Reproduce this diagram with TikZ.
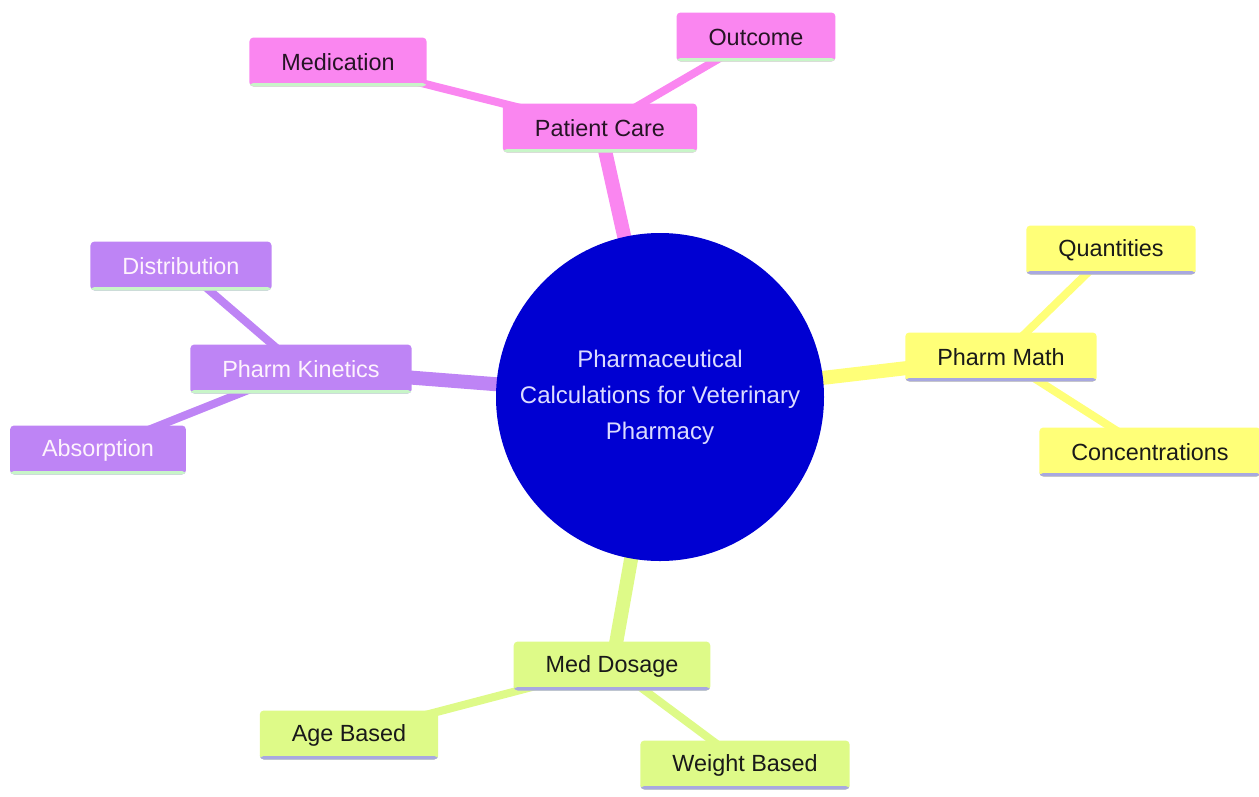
\documentclass[tikz,border=0pt]{standalone}
\usepackage{fontspec}
\setmainfont{Liberation Sans}
\usetikzlibrary{positioning, backgrounds}

\definecolor{rootblue}{HTML}{0000D2}
\definecolor{roottext}{HTML}{DCDCFF}
\definecolor{carepink}{HTML}{FA86F0}
\definecolor{kinpurple}{HTML}{BE84F5}
\definecolor{mathyellow}{HTML}{FFFF78}
\definecolor{dosegreen}{HTML}{DEFA88}
\definecolor{minty}{HTML}{C8F5C8}
\definecolor{lavender}{HTML}{A8A8E0}

\begin{document}
\begin{tikzpicture}[x=1pt, y=-1pt]
                \tikzset{
                    topic/.style={rectangle, rounded corners=4pt, inner xsep=32pt,
                        minimum height=49pt, font=\fontsize{23.4}{28}\selectfont},
                    stripe/.style={path picture={\fill[#1]
                        (path picture bounding box.south west) rectangle
                        ([yshift=3.5pt]path picture bounding box.south east);}},
                    care/.style={topic, fill=carepink, text=black!85!carepink, stripe=minty},
                    kin/.style={topic, fill=kinpurple, text=white!90!carepink, stripe=minty},
                    math/.style={topic, fill=mathyellow, text=black!90, stripe=lavender},
                    dose/.style={topic, fill=dosegreen, text=black!90, stripe=lavender},
                    branch/.style={line width=14pt, draw=#1},
                    twig/.style={line width=8pt, draw=#1}
                }
                \useasboundingbox (0,0) rectangle (1259,796);

                % ROOT
                \node[circle, fill=rootblue, text=roottext, minimum size=328pt, align=center,
                    font=\fontsize{24}{36}\selectfont] (root) at (660,397)
                    {Pharmaceutical\\Calculations for Veterinary\\Pharmacy};

                % BRANCHES
                \node[care] (care) at (600,128) {Patient Care};
                \node[kin] (kin) at (301,369) {Pharm Kinetics};
                \node[math] (math) at (1001,357) {Pharm Math};
                \node[dose] (dose) at (612,666) {Med Dosage};

                % LEAVES
                \node[care] (medication) at (338,62) {Medication};
                \node[care] (outcome) at (756,37) {Outcome};
                \node[kin] (distribution) at (181,266) {Distribution};
                \node[kin] (absorption) at (98,450) {Absorption};
                \node[math] (quantities) at (1111,250) {Quantities};
                \node[math] (concentrations) at (1150,452) {Concentrations};
                \node[dose] (age) at (349,735) {Age Based};
                \node[dose] (weight) at (745,765) {Weight Based};

                % CONNECTORS
                \begin{pgfonlayer}{background}
                \path
                    (root.center) edge[branch=carepink] (care.center)
                    (root.center) edge[branch=kinpurple] (kin.center)
                    (root.center) edge[branch=mathyellow] (math.center)
                    (root.center) edge[branch=dosegreen] (dose.center)
                    (care.center) edge[twig=carepink] (medication.center)
                    (care.center) edge[twig=carepink] (outcome.center)
                    (kin.center) edge[twig=kinpurple] (distribution.center)
                    (kin.center) edge[twig=kinpurple] (absorption.center)
                    (math.center) edge[twig=mathyellow] (quantities.center)
                    (math.center) edge[twig=mathyellow] (concentrations.center)
                    (dose.center) edge[twig=dosegreen] (age.center)
                    (dose.center) edge[twig=dosegreen] (weight.center);
                \end{pgfonlayer}

            \end{tikzpicture}
\end{document}
